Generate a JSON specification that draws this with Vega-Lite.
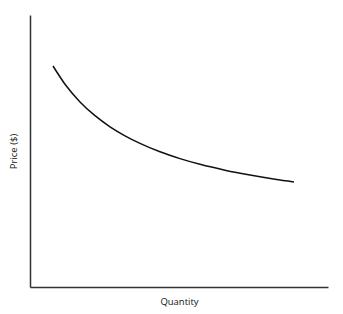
{
  "$schema": "https://vega.github.io/schema/vega-lite/v6.json",
  "width": 298,
  "height": 272,
  "autosize": {"type": "none"},
  "padding": {"left": 30, "top": 15, "right": 15, "bottom": 27},
  "background": "white",
  "config": {"view": {"stroke": null}},
  "data": {"values": [
    {"q": 23, "p": 221},
    {"q": 35, "p": 202.8},
    {"q": 50, "p": 185.1},
    {"q": 65, "p": 171.3},
    {"q": 80, "p": 160.2},
    {"q": 95, "p": 151.2},
    {"q": 110, "p": 143.6},
    {"q": 130, "p": 135.2},
    {"q": 150, "p": 128.4},
    {"q": 170, "p": 122.7},
    {"q": 195, "p": 116.8},
    {"q": 220, "p": 111.9},
    {"q": 245, "p": 107.7},
    {"q": 264, "p": 105}
  ]},
  "mark": {"type": "line", "color": "#111111", "strokeWidth": 1.5, "interpolate": "monotone"},
  "encoding": {
    "x": {"field": "q", "type": "quantitative", "scale": {"domain": [0, 298], "nice": false},
      "axis": {"title": "Quantity", "labels": false, "ticks": false, "grid": false, "domainColor": "#333333", "domainWidth": 1.5, "titleFont": "Open Sans", "titleFontSize": 9.5, "titleFontWeight": "normal", "titleColor": "#111111", "titlePadding": 9}},
    "y": {"field": "p", "type": "quantitative", "scale": {"domain": [0, 272], "nice": false},
      "axis": {"title": "Price ($)", "labels": false, "ticks": false, "grid": false, "domainColor": "#333333", "domainWidth": 1.5, "titleFont": "Open Sans", "titleFontSize": 9.5, "titleFontWeight": "normal", "titleColor": "#111111", "titlePadding": 12}}
  }
}
